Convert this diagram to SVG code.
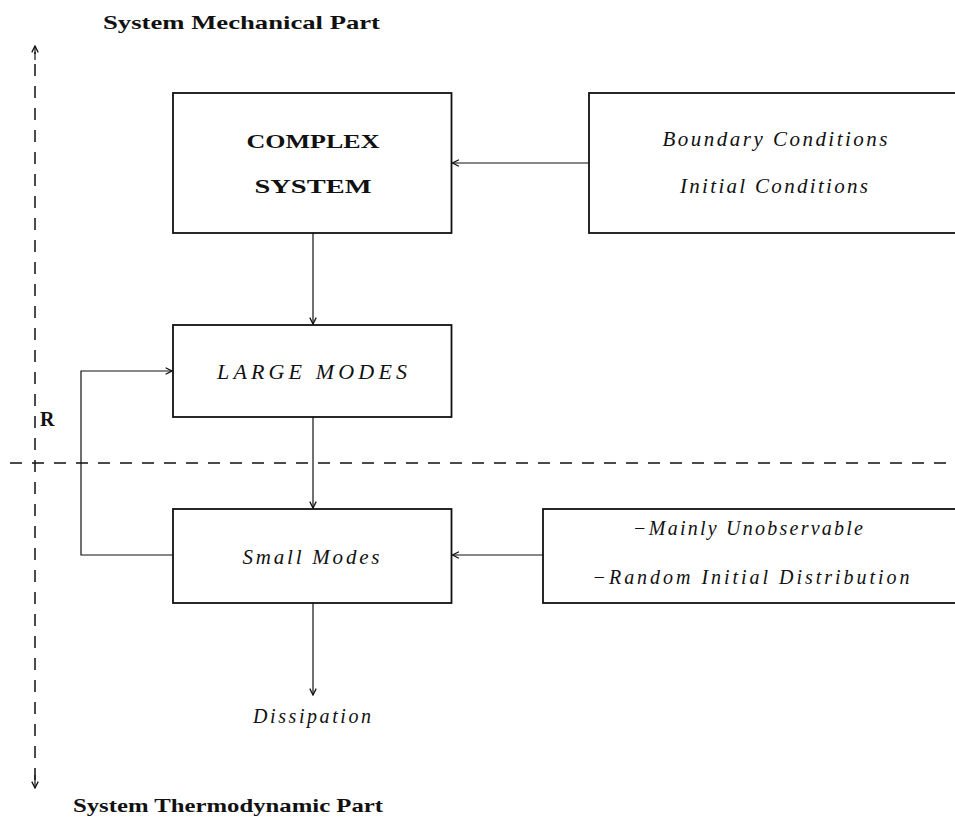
<svg xmlns="http://www.w3.org/2000/svg" width="955" height="822" viewBox="0 0 955 822">
<defs>
<style>
.box{fill:none;stroke:#111;stroke-width:1.8}
.con{fill:none;stroke:#111;stroke-width:1.2}
.dash{fill:none;stroke:#111;stroke-width:1.5;stroke-dasharray:12 10}
.b{font-family:"Liberation Serif","DejaVu Serif",serif;font-weight:bold;fill:#111}
.i{font-family:"Liberation Serif","DejaVu Serif",serif;font-style:italic;fill:#111}
</style>
<marker id="ah" viewBox="0 0 10 10" refX="9" refY="5" markerWidth="8" markerHeight="8" markerUnits="userSpaceOnUse" orient="auto">
<path d="M1,1 L9,5 L1,9" fill="none" stroke="#111" stroke-width="1.6"/>
</marker>
</defs>
<rect width="955" height="822" fill="#fff"/>

<text class="b" x="103" y="29" font-size="19" textLength="277" lengthAdjust="spacingAndGlyphs">System Mechanical Part</text>
<text class="b" x="73" y="812" font-size="19" textLength="310" lengthAdjust="spacingAndGlyphs">System Thermodynamic Part</text>
<text class="b" x="40" y="426" font-size="20">R</text>

<g id="axes">
<line class="dash" x1="35" y1="780" x2="35" y2="52"/>
<line class="dash" x1="10" y1="463" x2="955" y2="463"/>
<line class="con" x1="35" y1="60" x2="35" y2="46" marker-end="url(#ah)"/>
<line class="con" x1="35" y1="775" x2="35" y2="788" marker-end="url(#ah)"/>
</g>

<g id="complex">
<rect class="box" x="173" y="93" width="278.5" height="140"/>
<text class="b" x="313" y="148" font-size="19" text-anchor="middle" textLength="133" lengthAdjust="spacingAndGlyphs">COMPLEX</text>
<text class="b" x="313" y="193" font-size="19" text-anchor="middle" textLength="117" lengthAdjust="spacingAndGlyphs">SYSTEM</text>
</g>

<g id="conditions">
<rect class="box" x="589" y="93" width="380" height="140"/>
<text class="i" x="775" y="146" font-size="21" text-anchor="middle" textLength="225" lengthAdjust="spacing">Boundary Conditions</text>
<text class="i" x="774" y="193" font-size="21" text-anchor="middle" textLength="188" lengthAdjust="spacing">Initial Conditions</text>
</g>

<g id="large">
<rect class="box" x="173" y="325" width="278.5" height="92"/>
<text class="i" x="312" y="379" font-size="22" text-anchor="middle" textLength="190" lengthAdjust="spacing">LARGE MODES</text>
</g>

<g id="small">
<rect class="box" x="173" y="509" width="278.5" height="94"/>
<text class="i" x="311" y="564" font-size="21" text-anchor="middle" textLength="137" lengthAdjust="spacing">Small Modes</text>
</g>

<g id="random">
<rect class="box" x="543" y="509" width="430" height="94"/>
<text class="i" x="748" y="535" font-size="20" text-anchor="middle" textLength="230" lengthAdjust="spacing">−Mainly Unobservable</text>
<text class="i" x="751" y="584" font-size="20" text-anchor="middle" textLength="317" lengthAdjust="spacing">−Random Initial Distribution</text>
</g>

<g id="dissipation">
<text class="i" x="312" y="723" font-size="20" text-anchor="middle" textLength="118" lengthAdjust="spacing">Dissipation</text>
</g>

<g id="connectors">
<line class="con" x1="589" y1="163" x2="452.5" y2="163" marker-end="url(#ah)"/>
<line class="con" x1="313" y1="233" x2="313" y2="324" marker-end="url(#ah)"/>
<line class="con" x1="313" y1="417" x2="313" y2="508" marker-end="url(#ah)"/>
<line class="con" x1="543" y1="555" x2="452.5" y2="555" marker-end="url(#ah)"/>
<line class="con" x1="313" y1="603" x2="313" y2="695" marker-end="url(#ah)"/>
<polyline class="con" points="173,555 81,555 81,371 172,371" marker-end="url(#ah)"/>
</g>
</svg>
